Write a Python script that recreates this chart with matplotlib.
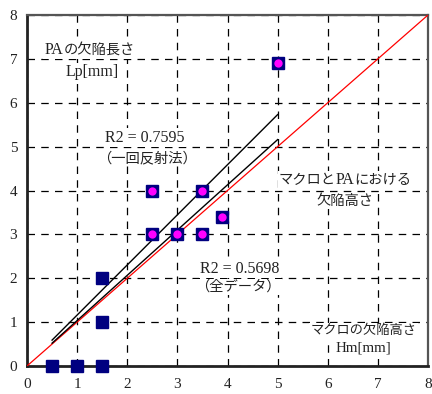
import matplotlib
matplotlib.use("Agg")
import matplotlib.pyplot as plt
from matplotlib.offsetbox import TextArea, HPacker, AnnotationBbox

# data
macro_x = [0.5, 1.0, 1.5, 1.5, 1.5]
macro_y = [0.0, 0.0, 0.0, 1.0, 2.0]
pa_x = [2.5, 3.0, 3.5, 2.5, 3.5, 3.9, 5.0]
pa_y = [3.0, 3.0, 3.0, 4.0, 4.0, 3.4, 6.9]
fit1_x = [0.5, 5.0]   # R2 = 0.7595
fit1_y = [0.59, 5.73]
fit2_x = [0.5, 5.0]   # R2 = 0.5698
fit2_y = [0.52, 5.16]
ref_x = [0, 8]
ref_y = [0, 8]
ticks = [0, 1, 2, 3, 4, 5, 6, 7, 8]

fam = ['Liberation Serif', 'Noto Sans CJK JP']
plt.rcParams['font.family'] = fam

fig = plt.figure(figsize=(4.32, 3.94), dpi=100)
ax = fig.add_axes([27/432, 28/394, (428-27)/432, (366-15)/394])
ax.set_xlim(0, 8)
ax.set_ylim(0, 8)
ax.set_xticks(ticks)
ax.set_yticks(ticks)
ax.tick_params(length=0, labelsize=11, pad=7, labelcolor='#222222')
ax.tick_params(axis='x', pad=9)
ax.grid(True, color='black', linestyle=(0, (6, 5)), linewidth=0.9)
ax.set_axisbelow(True)

for s in ['left', 'bottom']:
    ax.spines[s].set_linewidth(2)
    ax.spines[s].set_color('#222222')
for s in ['top', 'right']:
    ax.spines[s].set_linewidth(1.6)
    ax.spines[s].set_color('#555555')

ax.plot(ref_x, ref_y, color='red', linewidth=0.9, zorder=3)
ax.plot(fit1_x, fit1_y, color='black', linewidth=1.0, zorder=3)
ax.plot(fit2_x, fit2_y, color='black', linewidth=1.0, zorder=3)

ax.plot(macro_x, macro_y, 's', color='#000080', markersize=8.5,
        markeredgecolor='#000080', linestyle='none', zorder=4, clip_on=False)
ax.plot(pa_x, pa_y, 's', color='#000080', markersize=8.5,
        markeredgecolor='#000080', linestyle='none', zorder=4, clip_on=False)
ax.plot(pa_x, pa_y, 'o', color='#ff00ff', markersize=6,
        markeredgewidth=0, linestyle='none', zorder=5)

bbox = dict(facecolor='white', edgecolor='none', pad=1)
def txt(x, y, s, size):
    ax.text(x, y, s, fontsize=size, ha='center', va='center', color='#222222',
            family=fam, bbox=bbox, zorder=6)

def mixed(x, y, parts):
    areas = []
    for s, size in parts:
        areas.append(TextArea(s, textprops=dict(fontsize=size, color='#222222',
                                                family=fam)))
    pk = HPacker(children=areas, align='baseline', pad=0, sep=0)
    ab = AnnotationBbox(pk, (x, y), xycoords='data', frameon=True,
                        bboxprops=dict(facecolor='white', edgecolor='none'),
                        pad=0.1, box_alignment=(0.5, 0.5), zorder=6)
    ax.add_artist(ab)

mixed(1.25, 7.2, [('PA', 11.5), ('の欠陥長さ', 10.3)])
txt(1.3, 6.7, 'Lp[mm]', 11.5)
txt(2.35, 5.2, 'R2 = 0.7595', 11.5)
txt(2.4, 4.74, '（一回反射法）', 10.3)
mixed(6.35, 4.24, [('マクロと', 10.3), ('PA', 11.5), ('における', 10.3)])
txt(6.35, 3.76, '欠陥高さ', 10.3)
txt(4.25, 2.22, 'R2 = 0.5698', 11.5)
txt(4.2, 1.8, '（全データ）', 10.3)
txt(6.72, 0.8, 'マクロの欠陥高さ', 9.5)
txt(6.72, 0.42, 'Hm[mm]', 10.8)

fig.savefig('out.png', dpi=100)
